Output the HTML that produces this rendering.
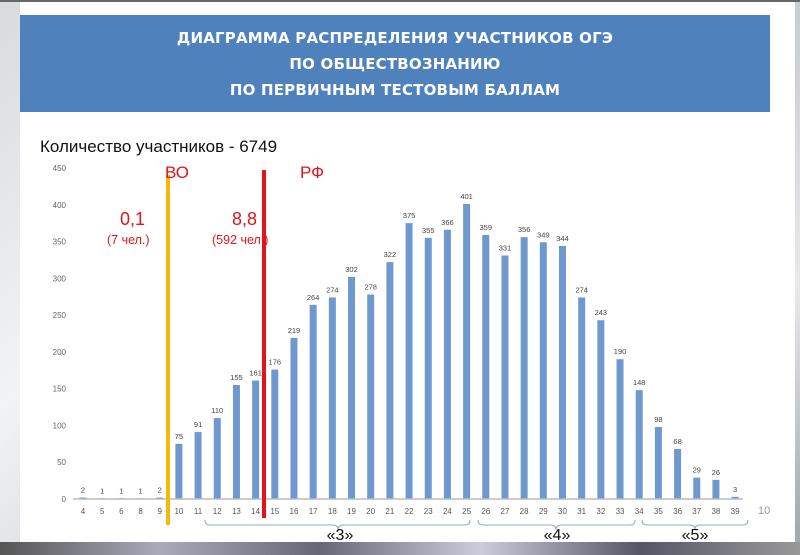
<!DOCTYPE html>
<html><head><meta charset="utf-8"><style>
body{margin:0;width:800px;height:555px;overflow:hidden;background:linear-gradient(135deg,#d8dadd 0%,#f2f3f5 30%,#c9ccd0 60%,#e8e9eb 80%,#9ea3a8 100%);font-family:"Liberation Sans",sans-serif;position:relative}
</style></head><body>
<div style="position:absolute;left:20px;top:0;width:775px;height:542px;background:#fff"></div>
<div style="position:absolute;left:0;top:542px;width:800px;height:13px;background:linear-gradient(90deg,#555 0%,#aab 20%,#667 40%,#ccd 60%,#556 80%,#999 100%)"></div>
<div style="position:absolute;left:0;top:0;width:800px;height:2px;background:#666"></div>
<div style="position:absolute;left:20px;top:15px;width:750px;height:97px;background:#4f81bd;color:#fff;font-family:'DejaVu Sans',sans-serif;font-weight:bold;font-size:15px;text-align:center;line-height:26px;padding-top:10px;box-sizing:border-box;letter-spacing:0.2px">ДИАГРАММА РАСПРЕДЕЛЕНИЯ УЧАСТНИКОВ ОГЭ<br>ПО ОБЩЕСТВОЗНАНИЮ<br>ПО ПЕРВИЧНЫМ ТЕСТОВЫМ БАЛЛАМ</div>
<svg width="800" height="555" style="position:absolute;left:0;top:0" font-family="Liberation Sans, sans-serif">
<text x="40" y="152" font-size="17" fill="#111">Количество участников - 6749</text>
<g font-size="8" fill="#666" text-anchor="end" id="yt"></g>
<g id="bars"></g>
<line x1="73" y1="499" x2="743" y2="499" stroke="#bbb" stroke-width="1.5"/>
<rect x="166" y="175" width="4" height="350" fill="#f5b90a"/>
<rect x="262" y="170" width="4" height="348" fill="#e0141a"/>
<text x="165" y="178" font-size="17" fill="#e0141a">ВО</text>
<text x="300" y="178" font-size="17" fill="#e0141a">РФ</text>
<text x="120" y="225" font-size="18" fill="#e0141a">0,1</text>
<text x="107" y="244" font-size="12.5" fill="#e0141a">(7 чел.)</text>
<text x="232" y="225" font-size="18" fill="#e0141a">8,8</text>
<text x="212" y="244" font-size="12.5" fill="#e0141a">(592 чел.)</text>
<g fill="none" stroke="#8fa8c8" stroke-width="1">
<path d="M205,520 q0,5 5,5 h123 q5,0 5,5 q0,-5 5,-5 h122 q5,0 5,-5"/>
<path d="M478,520 q0,5 5,5 h68 q5,0 5,5 q0,-5 5,-5 h69 q5,0 5,-5"/>
<path d="M642,520 q0,5 5,5 h43 q5,0 5,5 q0,-5 5,-5 h43 q5,0 5,-5"/>
</g>
<g font-size="16" fill="#111" text-anchor="middle">
<text x="340" y="540">«3»</text><text x="557" y="540">«4»</text><text x="695" y="540">«5»</text>
</g>
<text x="758" y="514" font-size="11" fill="#999">10</text>
</svg>
<script>
var ns="http://www.w3.org/2000/svg";
var yt=document.getElementById("yt");
for(var v=0;v<=450;v+=50){var t=document.createElementNS(ns,"text");t.setAttribute("x",66);t.setAttribute("y",499-v*0.7356+3);t.textContent=v;yt.appendChild(t);}
var cats=[4,5,6,8,9];for(var i=10;i<=39;i++)cats.push(i);
var vals=[2,1,1,1,2,75,91,110,155,161,176,219,264,274,302,278,322,375,355,366,401,359,331,356,349,344,274,243,190,148,98,68,29,26,3];
var g=document.getElementById("bars");
cats.forEach(function(c,i){var x=83+i*19.18;var h=vals[i]*0.7356;
var r=document.createElementNS(ns,"rect");r.setAttribute("x",x-3.5);r.setAttribute("y",499-h);r.setAttribute("width",7);r.setAttribute("height",h);r.setAttribute("fill","#6f98cf");g.appendChild(r);
var t=document.createElementNS(ns,"text");t.setAttribute("x",x);t.setAttribute("y",499-h-5);t.setAttribute("font-size","7.5");t.setAttribute("fill","#444");t.setAttribute("text-anchor","middle");t.textContent=vals[i];g.appendChild(t);
var l=document.createElementNS(ns,"text");l.setAttribute("x",x);l.setAttribute("y",514);l.setAttribute("font-size","8");l.setAttribute("fill","#555");l.setAttribute("text-anchor","middle");l.textContent=c;g.appendChild(l);});
</script>
</body></html>
